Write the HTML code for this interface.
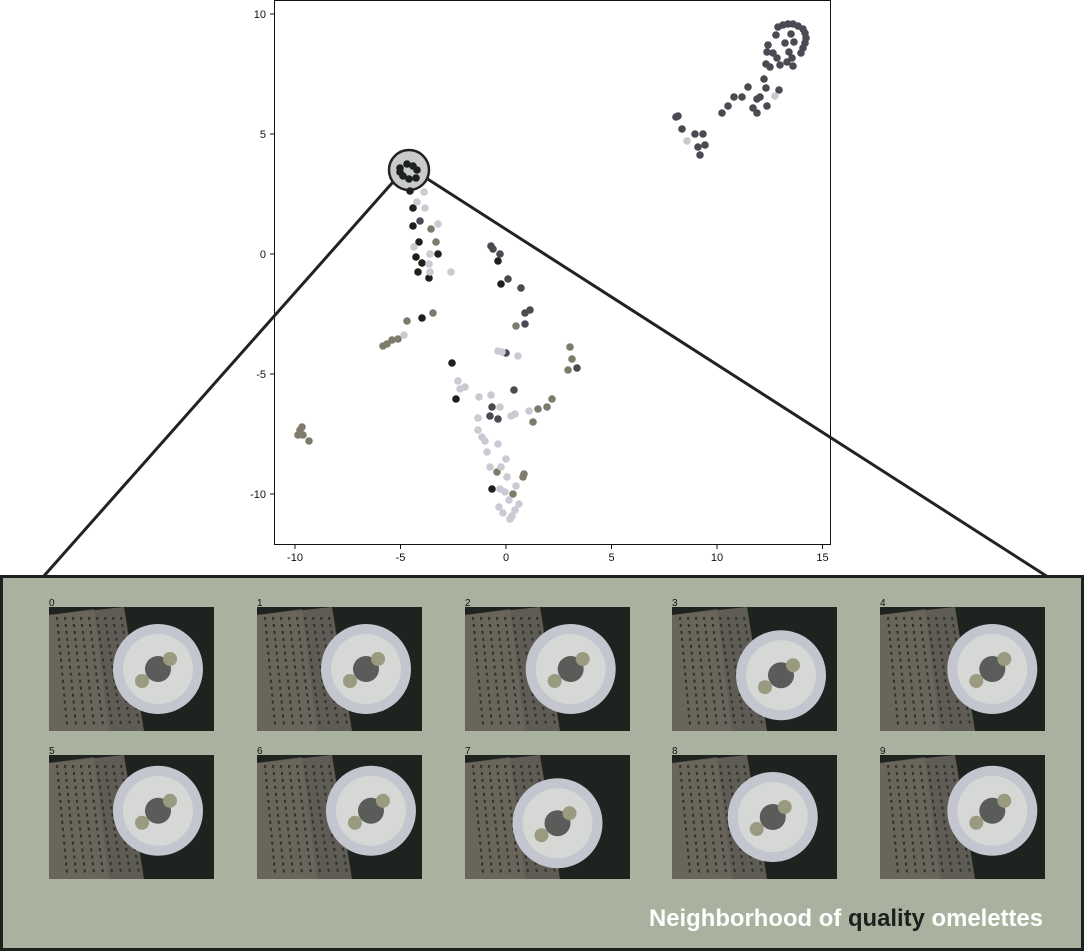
<!DOCTYPE html>
<html><head><meta charset="utf-8"><style>
body{margin:0;width:1085px;height:952px;background:#fff;overflow:hidden;font-family:"Liberation Sans",sans-serif}
svg{position:absolute;left:0;top:0}
</style></head><body>
<svg id="chart" width="1085" height="952"></svg>
<script>
const NS="http://www.w3.org/2000/svg";
// pixel-read points converted to data units
const darkPts=[[400,168],[407,164],[413,166],[417,170],[403,176],[409,179],[416,178],[400,172],[410,191],[413,208],[413,226],[419,242],[438,254],[416,257],[422,263],[418,272],[429,278],[422,318],[452,363],[456,399],[492,489],[498,261],[501,284]];
const charcoalPts=[[420,221],[491,246],[493,249],[500,254],[508,279],[521,288],[525,313],[530,310],[525,324],[506,353],[514,390],[492,407],[490,416],[498,419],[577,368],
[783,25],[788,24],[793,24],[798,26],[803,29],[805,33],[806,38],[805,43],[803,48],[801,53],[778,27],[776,35],[791,34],[794,42],[785,43],[789,52],[768,45],[767,52],[773,53],[777,58],[792,58],[787,62],[780,65],[793,66],[766,64],[770,67],[764,79],[766,88],[779,90],[748,87],[734,97],[742,97],[757,99],[760,97],[767,106],[728,106],[722,113],[753,108],[757,113],[678,116],[676,117],[682,129],[695,134],[703,134],[705,145],[698,147],[700,155]];
const olivePts=[[431,229],[436,242],[407,321],[433,313],[516,326],[392,340],[387,344],[383,346],[398,339],[570,347],[572,359],[568,370],[538,409],[547,407],[552,399],[533,422],[497,472],[524,474],[523,477],[513,494],[300,430],[303,435],[309,441],[298,435],[302,427]];
const lightPts=[[424,192],[417,202],[425,208],[438,224],[414,247],[430,254],[429,264],[430,272],[451,272],[404,335],[498,351],[502,352],[518,356],[458,381],[460,389],[465,387],[479,397],[491,395],[500,407],[511,416],[515,414],[529,411],[478,418],[478,430],[482,437],[485,441],[498,444],[487,452],[506,459],[490,467],[501,467],[507,477],[516,486],[500,489],[505,492],[509,500],[519,504],[499,507],[515,510],[503,513],[512,516],[510,519],[687,141],[775,96]];
const xTicks=[-10,-5,0,5,10,15];
const yTicks=[10,5,0,-5,-10];
const toData=p=>[(p[0]-506)/21.1,(254-p[1])/24];
const series=[["dark",darkPts.map(toData),"#1d211e"],["charcoal",charcoalPts.map(toData),"#4a4a52"],["olive",olivePts.map(toData),"#7e7b6d"],["light",lightPts.map(toData),"#c9cad2"]];
const X=v=>506+v*21.1, Y=v=>254-v*24;
const svg=document.getElementById('chart');
function mk(t,a,p){const e=document.createElementNS(NS,t);for(const k in a)e.setAttribute(k,a[k]);(p||svg).appendChild(e);return e;}
const frame=mk('rect',{x:274.5,y:0.5,width:556,height:544,fill:'#fff',stroke:'#111','stroke-width':1});


xTicks.forEach(t=>{const g=mk('g',{});


mk('line',{x1:X(t),x2:X(t),y1:545,y2:549,stroke:'#111'},g);
const tx=mk('text',{x:X(t),y:561,'text-anchor':'middle','font-size':11,fill:'#111'},g);tx.textContent=t;});
yTicks.forEach(t=>{const g=mk('g',{});


mk('line',{x1:270,x2:274,y1:Y(t),y2:Y(t),stroke:'#111'},g);
const tx=mk('text',{x:266,y:Y(t)+4,'text-anchor':'end','font-size':11,fill:'#111'},g);tx.textContent=t;});
// connector lines + lens (drawn under points)
const l1=mk('line',{x1:393,y1:182,x2:43,y2:577,stroke:'#222','stroke-width':3});


const l2=mk('line',{x1:426,y1:178,x2:1048,y2:577,stroke:'#222','stroke-width':3});


const lens=mk('circle',{cx:409,cy:170,r:20,fill:'#c9cbc9',stroke:'#222','stroke-width':2.5});


series.forEach(([n,pts,c])=>{const g=mk('g',{});


pts.forEach(d=>{const e=mk('circle',{cx:X(d[0]),cy:Y(d[1]),r:3.8,fill:c},g);

});});
// panel
const panel=mk('rect',{x:1.5,y:576.5,width:1081,height:373,fill:'#a9b29e',stroke:'#1d211e','stroke-width':3});


const cols=[49,257,465,672,880], rows=[607,755];
const platePos=[[0.6,0.5],[0.6,0.5],[0.58,0.5],[0.6,0.55],[0.62,0.5],[0.6,0.45],[0.63,0.45],[0.5,0.55],[0.55,0.5],[0.62,0.45]];
let idx=0;
rows.forEach(ry=>cols.forEach(cx=>{const i=idx++;const g=mk('g',{transform:`translate(${cx},${ry})`});


const lb=mk('text',{x:0,y:-1,'font-size':10,fill:'#111'},g);lb.textContent=i;
mk('rect',{x:0,y:0,width:165,height:124,fill:'#1f231f'},g);
mk('polygon',{points:'0,8 75,0 95,124 0,124',fill:'#5f5c55'},g);
mk('polygon',{points:'0,8 45,2 60,124 0,124',fill:'#6e6a5e',opacity:0.7},g);
for(let k=0;k<9;k++)mk('line',{x1:8+k*8,y1:10,x2:18+k*9,y2:118,stroke:'#2e302b','stroke-width':2,'stroke-dasharray':'3 4'},g);
const [px,py]=platePos[i];
mk('circle',{cx:165*px+10,cy:124*py,r:45,fill:'#c4c6cf'},g);
mk('circle',{cx:165*px+10,cy:124*py,r:35,fill:'#d6d8d6'},g);
mk('circle',{cx:165*px+10,cy:124*py,r:13,fill:'#3a3d38',opacity:0.8},g);
mk('circle',{cx:165*px-6,cy:124*py+12,r:7,fill:'#9a9a80'},g);
mk('circle',{cx:165*px+22,cy:124*py-10,r:7,fill:'#9a9a80'},g);
}));
const t=mk('text',{x:649,y:926,'font-size':24,'font-weight':'bold',fill:'#fff',textLength:394,lengthAdjust:'spacingAndGlyphs'});


t.innerHTML='Neighborhood of <tspan fill="#1d211e">quality</tspan> omelettes';
</script>
</body></html>
